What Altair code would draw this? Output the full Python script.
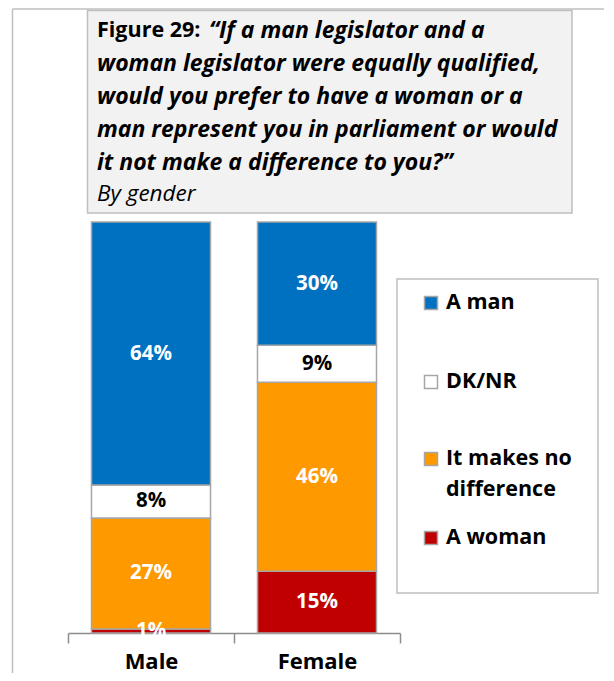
import altair as alt
import pandas as pd

# ---- data ----
genders = ["Male", "Female"]
categories = ["A woman", "It makes no difference", "DK/NR", "A man"]
male_values = [1, 27, 8, 64]
female_values = [15, 46, 9, 30]
colors = ["#C00000", "#FF9900", "#FFFFFF", "#0070C0"]
legend_order = ["A man", "DK/NR", "It makes no difference", "A woman"]

title_prefix = "Figure 29:"
title_lines = [
    "\u201cIf a man legislator and a",
    "woman legislator were equally qualified,",
    "would you prefer to have a woman or a",
    "man represent you in parliament or would",
    "it not make a difference to you?\u201d",
]
subtitle = "By gender"

rows = []
for g, vals in zip(genders, [male_values, female_values]):
    for i, (c, v) in enumerate(zip(categories, vals)):
        rows.append({"gender": g, "category": c, "value": v, "order": i,
                     "label": f"{v}%"})
df = pd.DataFrame(rows)

FONT = "Open Sans"
W, H = 332, 411
PAD = {"left": 60, "top": 214, "right": 204, "bottom": 40}

color_scale = alt.Scale(domain=categories, range=colors)
x_enc = alt.X("gender:N", sort=genders,
              scale=alt.Scale(paddingInner=0, paddingOuter=0),
              axis=alt.Axis(title=None, labelAngle=0, labelFont=FONT,
                            labelFontSize=22, labelFontWeight="bold",
                            labelColor="#000000", labelPadding=8,
                            domainColor="#8c8c8c", domainWidth=1.5,
                            tickColor="#8c8c8c", tickWidth=1.5, tickSize=10,
                            tickBand="extent", labelBaseline="top", grid=False))

bars = alt.Chart(df).mark_bar(width=alt.RelativeBandSize(0.717),
                              stroke="#a6a6a6", strokeWidth=1.5).encode(
    x=x_enc,
    y=alt.Y("value:Q", stack="zero",
            scale=alt.Scale(domain=[0, 100], nice=False), axis=None),
    color=alt.Color("category:N", scale=color_scale, legend=None),
    order=alt.Order("order:Q"),
)

labels = alt.Chart(df).transform_stack(
    stack="value", groupby=["gender"], as_=["y0", "y1"],
    sort=[alt.SortField("order")]
).transform_calculate(
    mid="(datum.y0 + datum.y1) / 2"
).mark_text(font=FONT, fontSize=20.5, fontWeight="bold").encode(
    x=alt.X("gender:N", sort=genders),
    y=alt.Y("mid:Q"),
    text="label:N",
    color=alt.condition(alt.datum.category == "DK/NR",
                        alt.value("#000000"), alt.value("#FFFFFF")),
)

dummy = pd.DataFrame({"d": [0]})
base = alt.Chart(dummy)

outer_left = base.mark_rule(stroke="#bfbfbf", strokeWidth=1.5).encode(
    x=alt.value(-55.5), y=alt.value(-213), y2=alt.value(H + PAD["bottom"]))
outer_top = base.mark_rule(stroke="#bfbfbf", strokeWidth=1.5).encode(
    x=alt.value(-55.5), x2=alt.value(W + PAD["right"]), y=alt.value(-213))

title_box = base.mark_rect(fill="#F2F2F2", stroke="#bfbfbf", strokeWidth=1.5).encode(
    x=alt.value(19.5), x2=alt.value(504), y=alt.value(-211.5), y2=alt.value(-9))

line_y = [-191, -158, -125, -92, -59]
title_layers = [
    base.mark_text(text=title_prefix, font=FONT, fontSize=21.5, fontWeight="bold",
                   align="left", baseline="middle", color="#000000").encode(
        x=alt.value(29), y=alt.value(line_y[0]))
]
for i, t in enumerate(title_lines):
    xx = 141 if i == 0 else 29
    title_layers.append(
        base.mark_text(text=t, font=FONT, fontSize=23, fontWeight="bold",
                       fontStyle="italic", align="left", baseline="middle",
                       color="#000000").encode(x=alt.value(xx), y=alt.value(line_y[i])))
title_layers.append(
    base.mark_text(text=subtitle, font=FONT, fontSize=22.5, fontStyle="italic",
                   align="left", baseline="middle", color="#000000").encode(
        x=alt.value(29), y=alt.value(-28)))

legend_box = base.mark_rect(fill="#FFFFFF", stroke="#bfbfbf", strokeWidth=1.5).encode(
    x=alt.value(329), x2=alt.value(530), y=alt.value(57), y2=alt.value(371))

legend_y = {"A man": 81, "DK/NR": 160, "It makes no difference": 237, "A woman": 316}
legend_text = {"It makes no difference": ["It makes no", "difference"]}
legend_layers = []
for c in legend_order:
    col = colors[categories.index(c)]
    legend_layers.append(
        base.mark_square(size=169, fill=col, stroke="#a6a6a6", strokeWidth=1.5,
                         opacity=1).encode(x=alt.value(363), y=alt.value(legend_y[c])))
    legend_layers.append(
        base.mark_text(text=legend_text.get(c, c), font=FONT, fontSize=21.5,
                       fontWeight="bold", align="left", baseline="middle",
                       lineHeight=31, color="#000000").encode(
            x=alt.value(378), y=alt.value(legend_y[c]))
    )

chart = alt.layer(
    outer_left, outer_top, title_box, *title_layers, legend_box, *legend_layers,
    bars, labels
).properties(
    width=W, height=H,
    autosize=alt.AutoSizeParams(type="none"),
    padding=PAD,
    background="#FFFFFF",
).configure_view(strokeWidth=0, stroke=None)

chart.save("out.html", embed_options={"renderer": "svg", "actions": False})
